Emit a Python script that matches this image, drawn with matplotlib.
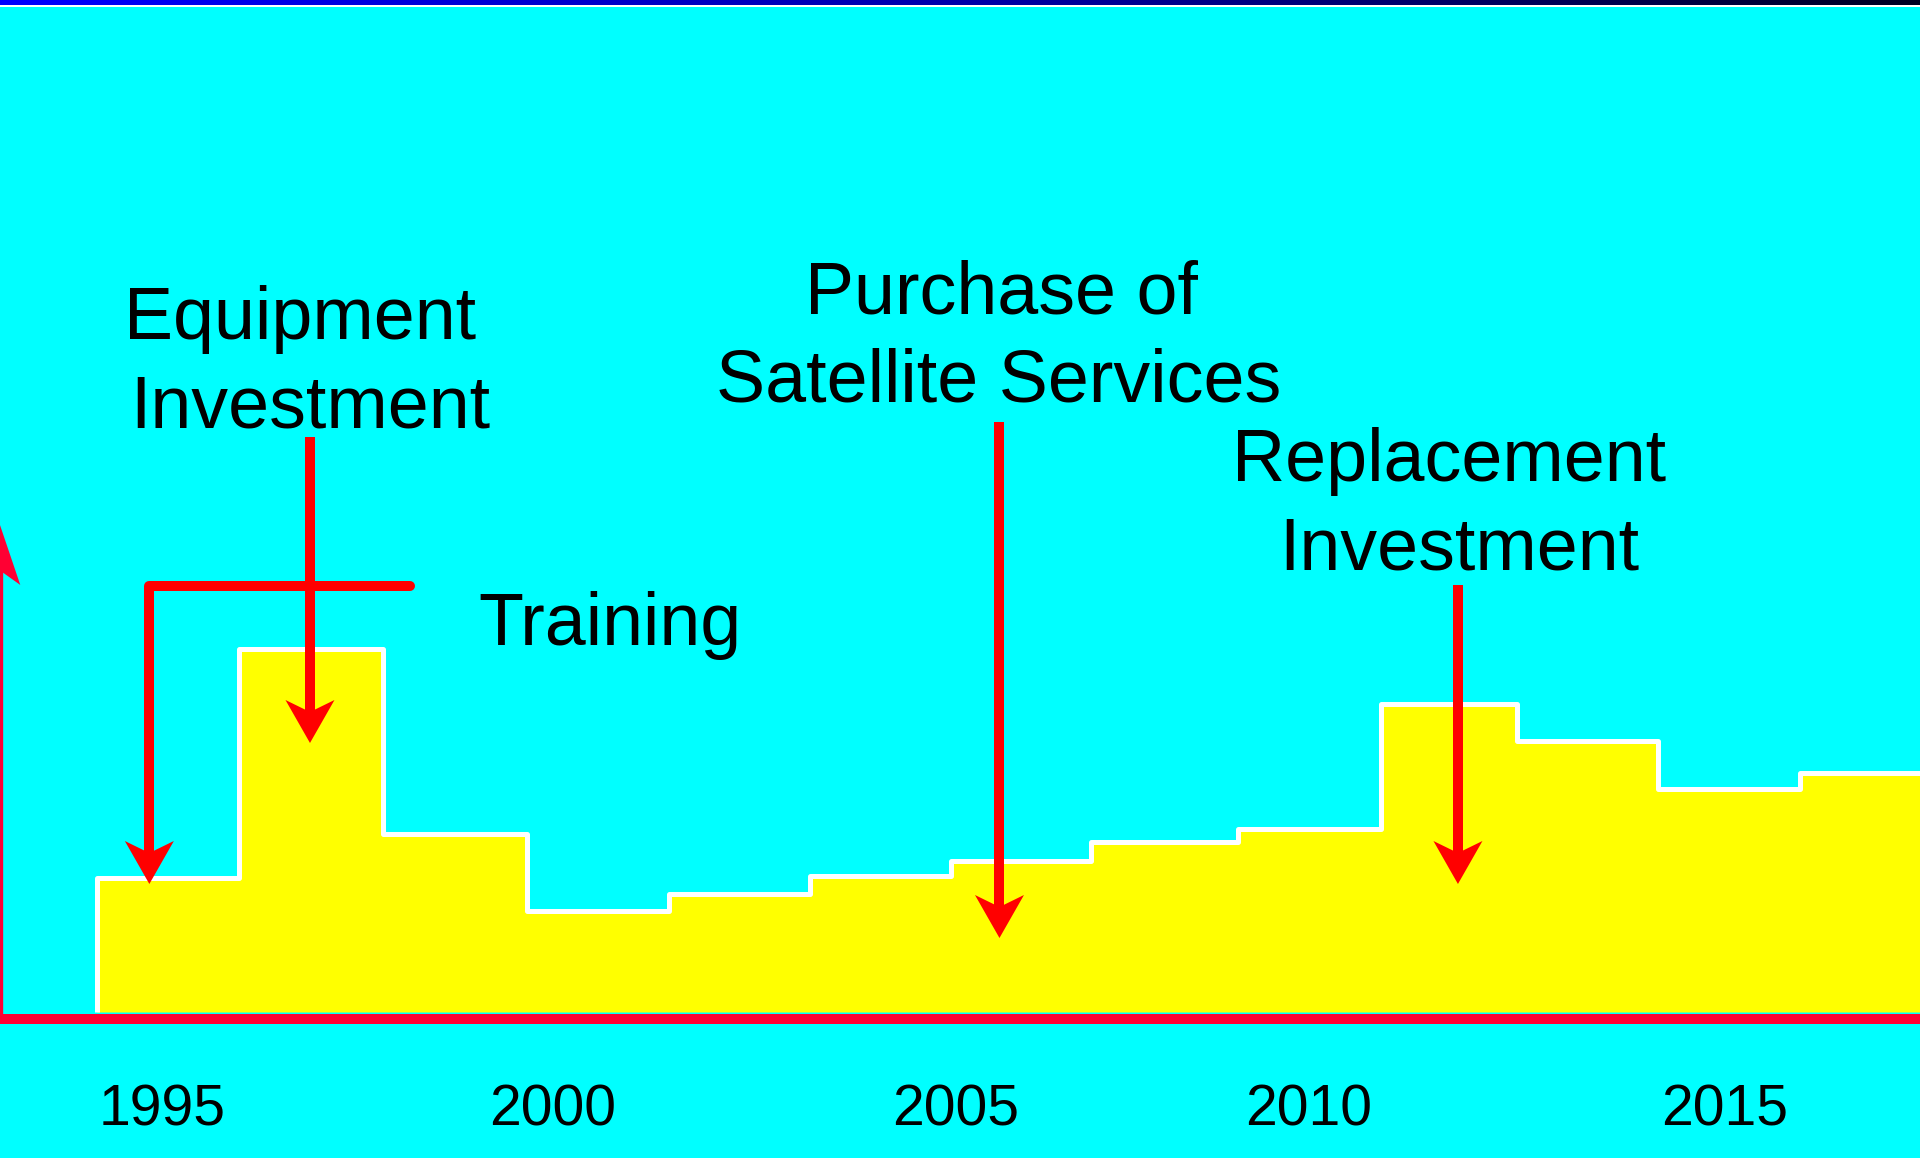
import numpy as np
import matplotlib
matplotlib.use("Agg")
import matplotlib.pyplot as plt
from matplotlib.patches import Polygon, Rectangle
from matplotlib.colors import LinearSegmentedColormap

# cost profile, one block per period
edges = [0, 1.0, 2.02, 3.03, 4.03, 5.03, 6.02, 7.01, 8.04, 9.05, 10.01, 11.0, 12.0, 13.0]
costs = [134, 363, 178, 101, 118, 136, 151, 170, 183, 308, 271, 223, 239]

year_labels = ['1995', '2000', '2005', '2010', '2015']
year_pos = [0.464, 3.212, 6.056, 8.540, 11.471]

CYAN = '#00ffff'
AXIS_RED = '#ff0033'
ARROW_RED = '#ff0000'
PX = 141.9   # pixels per block along x; y runs 1 unit per pixel

plt.rcParams['font.family'] = ['Liberation Sans', 'DejaVu Sans']

fig = plt.figure(figsize=(19.2, 11.58), dpi=100, facecolor=CYAN)
ax = fig.add_axes([0, 0, 1, 1])
ax.set_facecolor(CYAN)
ax.set_xlim(-96.7 / PX, (1920 - 96.7) / PX)
ax.set_ylim(-146, 1012)
ax.axis('off')

ax.stairs(costs, edges, baseline=0, fill=True, facecolor='#ffff00',
          edgecolor='white', linewidth=3.6, joinstyle='round', zorder=2)


def head(x, y, length, half, notch, color):
    # barbed head, tip at (x, y); negative length points it upwards
    w = half / PX
    pts = [(x, y), (x - w, y + length), (x, y + notch), (x + w, y + length)]
    ax.add_patch(Polygon(pts, closed=True, facecolor=color, lw=0, zorder=5,
                         clip_on=False))


def down_arrow(x, y0, y1):
    ax.plot([x, x], [y0, y1 + 31], color=ARROW_RED, lw=7.2,
            solid_capstyle='butt', zorder=4)
    head(x, y1, 43, 24.5, 31, ARROW_RED)


# axes (the vertical one sits half off the left edge)
ax.axhline(-7, color=AXIS_RED, lw=7.2, zorder=3)
xl = -97.4 / PX
ax.plot([xl, xl], [-7, 442], color=AXIS_RED, lw=6.0, solid_capstyle='butt',
        zorder=3, clip_on=False)
head(xl, 489, -62, 21, -47, AXIS_RED)

# training bracket
ax.plot([2.208, 0.371, 0.371], [426, 426, 128 + 31], color=ARROW_RED, lw=7.2,
        solid_capstyle='round', solid_joinstyle='round', zorder=4)
head(0.371, 128, 43, 24.5, 31, ARROW_RED)

down_arrow(1.503, 575, 269)
down_arrow(6.362, 590, 74)
down_arrow(9.593, 427, 128)

fs = 53
ax.text(1.433, 673, 'Equipment', ha='center', va='baseline', fontsize=fs)
ax.text(1.503, 585, 'Investment', ha='center', va='baseline', fontsize=fs)
ax.text(3.617, 367, 'Training', ha='center', va='baseline', fontsize=fs)
ax.text(6.373, 698, 'Purchase of', ha='center', va='baseline', fontsize=fs)
ax.text(6.356, 610, 'Satellite Services', ha='center', va='baseline', fontsize=fs)
ax.text(9.530, 531, 'Replacement', ha='center', va='baseline', fontsize=fs)
ax.text(9.605, 443, 'Investment', ha='center', va='baseline', fontsize=fs)

for pos, lab in zip(year_pos, year_labels):
    ax.text(pos, -114, lab, ha='center', va='baseline', fontsize=41)

# title bar strip at the very top
band = fig.add_axes([0, 1 - 5 / 1158, 1, 5 / 1158])
cmap = LinearSegmentedColormap.from_list('band', ['#0000ff', '#0000aa', '#000022'])
band.imshow(np.linspace(0, 1, 256)[None, :], aspect='auto', cmap=cmap)
band.axis('off')
fig.add_artist(Rectangle((0, 1 - 7 / 1158), 1, 2 / 1158, transform=fig.transFigure,
                         facecolor='white', lw=0))

fig.savefig('out.png', dpi=100, facecolor=CYAN)
